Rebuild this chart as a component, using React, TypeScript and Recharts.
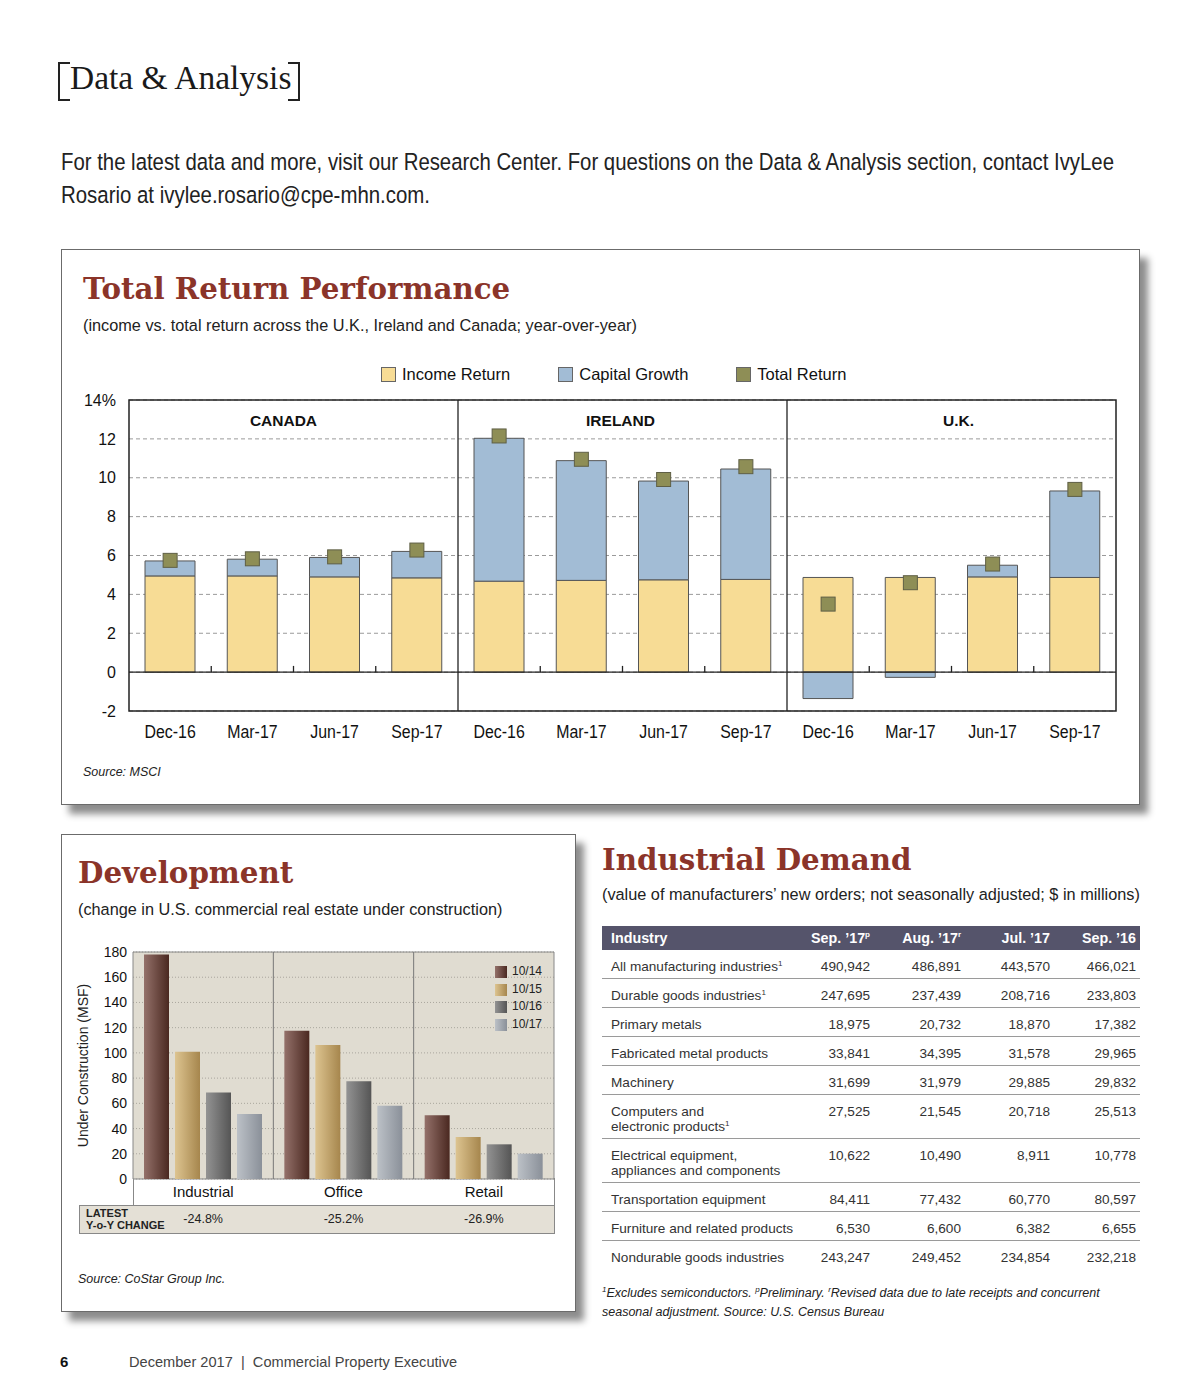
import React from 'react';
import {
  ComposedChart, BarChart, Bar, Scatter, XAxis, YAxis, CartesianGrid, ReferenceLine, ReferenceArea,
} from 'recharts';

// Total Return Performance (% year-over-year)
const returnRegions = ['CANADA', 'IRELAND', 'U.K.'];
const returnPeriods = ['Dec-16', 'Mar-17', 'Jun-17', 'Sep-17'];
const incomeReturn = [4.95, 4.95, 4.9, 4.85, 4.68, 4.72, 4.75, 4.77, 4.87, 4.87, 4.9, 4.87];
const capitalGrowth = [0.77, 0.86, 1.0, 1.36, 7.35, 6.16, 5.08, 5.68, -1.36, -0.27, 0.6, 4.45];
const totalReturn = [5.75, 5.83, 5.93, 6.28, 12.15, 10.95, 9.91, 10.57, 3.5, 4.6, 5.56, 9.4];
const returnTicks = [-2, 0, 2, 4, 6, 8, 10, 12, 14];
const returnSeries = ['Income Return', 'Capital Growth', 'Total Return'];

// Development (MSF under construction)
const devCategories = ['Industrial', 'Office', 'Retail'];
const devPeriods = ['10/14', '10/15', '10/16', '10/17'];
const dev1014 = [178, 117.5, 50.6];
const dev1015 = [101, 106.2, 33.4];
const dev1016 = [68.5, 77.5, 27.5];
const dev1017 = [51.5, 58, 20.1];
const devChange = ['-24.8%', '-25.2%', '-26.9%'];
const devTicks = [0, 20, 40, 60, 80, 100, 120, 140, 160, 180];

// Industrial Demand table
const demandColumns = ['Sep. \u201917', 'Aug. \u201917', 'Jul. \u201917', 'Sep. \u201916'];
const demandColumnMarks = ['p', 'r', '', ''];
const demandIndustries = [
  'All manufacturing industries|1',
  'Durable goods industries|1',
  'Primary metals',
  'Fabricated metal products',
  'Machinery',
  'Computers and\nelectronic products|1',
  'Electrical equipment,\nappliances and components',
  'Transportation equipment',
  'Furniture and related products',
  'Nondurable goods industries',
];
const demandSep17 = ['490,942', '247,695', '18,975', '33,841', '31,699', '27,525', '10,622', '84,411', '6,530', '243,247'];
const demandAug17 = ['486,891', '237,439', '20,732', '34,395', '31,979', '21,545', '10,490', '77,432', '6,600', '249,452'];
const demandJul17 = ['443,570', '208,716', '18,870', '31,578', '29,885', '20,718', '8,911', '60,770', '6,382', '234,854'];
const demandSep16 = ['466,021', '233,803', '17,382', '29,965', '29,832', '25,513', '10,778', '80,597', '6,655', '232,218'];

const SANS = "'Liberation Sans', Arial, Helvetica, sans-serif";
const SERIF = "'Liberation Serif', 'DejaVu Serif', serif";
const SLAB = "'DejaVu Serif', 'Liberation Serif', serif";
const TITLE_RED = '#8b3429';

const seriesColors = ['#f7dc95', '#a2bcd5', '#8e8e56'];
const devGradients = [
  ['#94716a', '#4a2820'],
  ['#ddc490', '#a6864d'],
  ['#939393', '#555555'],
  ['#bcc1c7', '#8a9099'],
];

const returnRows = returnRegions.flatMap((region, g) =>
  returnPeriods.map((period, p) => {
    const i = g * returnPeriods.length + p;
    return { key: `${region} ${period}`, slot: i + 0.5, income: incomeReturn[i], capital: capitalGrowth[i], total: totalReturn[i] };
  }),
);

const devRows = devCategories.map((name, i) => ({
  name,
  slot: i + 0.5,
  change: devChange[i],
  v0: dev1014[i],
  v1: dev1015[i],
  v2: dev1016[i],
  v3: dev1017[i],
}));

const TotalSquare = (props: any) => {
  const { cx, cy } = props;
  if (cx == null || cy == null) return null;
  return <rect x={cx - 7} y={cy - 7} width={14} height={14} fill={seriesColors[2]} stroke="#5f5f45" strokeWidth={1} />;
};

// condensed period label (no narrow face installed, so squeeze Liberation Sans)
const PeriodTick = (props: any) => {
  const { x, y, payload } = props;
  const label = String(payload.value).split(' ').pop();
  return (
    <g transform={`translate(${x},${y})`}>
      <text transform="scale(0.86,1)" textAnchor="middle" dy={13} fontSize={18.5} fontFamily={SANS} fill="#111">
        {label}
      </text>
    </g>
  );
};

const boxStyle: React.CSSProperties = {
  position: 'absolute',
  background: '#fff',
  border: '1px solid #6b6b6b',
  boxShadow: '8px 9px 7px rgba(0,0,0,0.45)',
};

const TotalReturnChart = () => {
  const n = returnRows.length;
  const inner: number[] = [];
  for (let k = 1; k < n; k++) if (k % returnPeriods.length !== 0) inner.push(k);
  const groups: number[] = [];
  for (let k = returnPeriods.length; k < n; k += returnPeriods.length) groups.push(k);
  const labelShift = [-10, -2, 7];

  return (
    <ComposedChart
      width={1070}
      height={356}
      data={returnRows}
      stackOffset="sign"
      margin={{ top: 10, right: 14, bottom: 5, left: 0 }}
    >
      <CartesianGrid vertical={false} stroke="#9a9a9a" strokeDasharray="4 3" />
      <XAxis
        dataKey="key"
        interval={0}
        axisLine={false}
        tickLine={false}
        height={30}
        tickMargin={8}
        tick={<PeriodTick />}
      />
      <XAxis xAxisId="n" dataKey="slot" type="number" domain={[0, n]} allowDataOverflow hide />
      <YAxis
        domain={[-2, 14]}
        ticks={returnTicks}
        interval={0}
        width={69}
        axisLine={false}
        tickLine={false}
        tickMargin={7}
        tickFormatter={(v: number) => (v === 14 ? '14%' : String(v))}
        tick={{ fill: '#111', fontSize: 16, fontFamily: SANS }}
      />
      <Bar dataKey="income" name={returnSeries[0]} stackId="r" barSize={50} fill={seriesColors[0]} stroke="#555" strokeWidth={1} isAnimationActive={false} />
      <Bar dataKey="capital" name={returnSeries[1]} stackId="r" barSize={50} fill={seriesColors[1]} stroke="#555" strokeWidth={1} isAnimationActive={false} />
      <ReferenceLine y={0} stroke="#222" strokeWidth={1.3} />
      {inner.map((k) => (
        <ReferenceLine key={k} xAxisId="n" segment={[{ x: k, y: 0 }, { x: k, y: 0.32 }]} stroke="#222" strokeWidth={1.3} />
      ))}
      {groups.map((k) => (
        <ReferenceLine key={`g${k}`} xAxisId="n" x={k} stroke="#222" strokeWidth={1.3} />
      ))}
      {returnRegions.map((r, g) => (
        <ReferenceArea
          key={r}
          xAxisId="n"
          x1={g * returnPeriods.length}
          x2={(g + 1) * returnPeriods.length}
          y1={12.5}
          y2={13.44}
          fill="none"
          stroke="none"
          label={{ value: r, position: 'center', dx: labelShift[g], fill: '#111', fontSize: 15.5, fontWeight: 700, fontFamily: SANS }}
        />
      ))}
      <ReferenceArea xAxisId="n" x1={0} x2={n} y1={-2} y2={14} fill="none" stroke="#222" strokeWidth={1.5} />
      <Scatter dataKey="total" name={returnSeries[2]} shape={TotalSquare} isAnimationActive={false} />
    </ComposedChart>
  );
};

const DevelopmentChart = () => (
  <BarChart
    width={503}
    height={299}
    data={devRows}
    barSize={25}
    barGap={6}
    margin={{ top: 12, right: 10, bottom: 5, left: 0 }}
  >
    <defs>
      {devGradients.map(([a, b], i) => (
        <linearGradient key={i} id={`dev-g-${i}`} x1="0" y1="0" x2="1" y2="0">
          <stop offset="0%" stopColor={a} />
          <stop offset="100%" stopColor={b} />
        </linearGradient>
      ))}
    </defs>
    <CartesianGrid vertical={false} fill="#e0dcd1" stroke="#a9a69d" strokeDasharray="1 2" />
    <XAxis
      dataKey="name"
      axisLine={false}
      tickLine={false}
      height={27}
      tickMargin={1}
      tick={{ fill: '#111', fontSize: 15, fontFamily: SANS }}
    />
    <XAxis
      xAxisId="chg"
      dataKey="change"
      axisLine={false}
      tickLine={false}
      height={28}
      tickMargin={2}
      tick={{ fill: '#222', fontSize: 12.5, fontFamily: SANS }}
    />
    <XAxis xAxisId="n" dataKey="slot" type="number" domain={[0, devCategories.length]} allowDataOverflow hide />
    <YAxis
      domain={[0, 180]}
      ticks={devTicks}
      interval={0}
      width={72}
      axisLine={false}
      tickLine={false}
      tickMargin={0}
      tick={{ fill: '#111', fontSize: 14, fontFamily: SANS }}
      label={{
        value: 'Under Construction (MSF)',
        angle: -90,
        position: 'insideLeft',
        offset: 22,
        style: { textAnchor: 'middle', fill: '#222', fontSize: 14, fontFamily: SANS },
      }}
    />
    {devPeriods.map((p, i) => (
      <Bar key={p} dataKey={`v${i}`} name={p} fill={`url(#dev-g-${i})`} isAnimationActive={false} />
    ))}
    {devCategories.slice(1).map((c, i) => (
      <ReferenceLine key={c} xAxisId="n" x={i + 1} stroke="#777" strokeWidth={1} />
    ))}
    <ReferenceArea xAxisId="n" x1={0} x2={devCategories.length} y1={0} y2={180} fill="none" stroke="#888" strokeWidth={1} />
  </BarChart>
);

const IndustryName = ({ text }: { text: string }) => {
  const [label, mark] = text.split('|');
  const lines = label.split('\n');
  return (
    <>
      {lines.map((l, i) => (
        <div key={i} style={{ whiteSpace: 'nowrap' }}>
          {l}
          {i === lines.length - 1 && mark ? <sup style={{ fontSize: 8, verticalAlign: 'top', lineHeight: '10px' }}>{mark}</sup> : null}
        </div>
      ))}
    </>
  );
};

const DemandTable = () => {
  const colWidths = [200, 73, 91, 89, 85];
  const values = [demandSep17, demandAug17, demandJul17, demandSep16];
  const cellPad = (c: number): React.CSSProperties =>
    c === 0 ? { paddingLeft: 9, textAlign: 'left' } : { paddingLeft: 0, paddingRight: c === 4 ? 4 : 5, textAlign: 'right' };
  return (
    <table
      style={{
        position: 'absolute',
        left: 602,
        top: 926,
        width: 538,
        borderCollapse: 'collapse',
        tableLayout: 'fixed',
        fontFamily: SANS,
        fontSize: 13.6,
        color: '#333',
      }}
    >
      <colgroup>
        {colWidths.map((w, i) => (
          <col key={i} style={{ width: w }} />
        ))}
      </colgroup>
      <thead>
        <tr style={{ background: '#55546b', color: '#fff', height: 24 }}>
          <th style={{ ...cellPad(0), fontSize: 14.3, padding: '0 0 0 9px' }}>Industry</th>
          {demandColumns.map((c, i) => (
            <th key={c} style={{ ...cellPad(i + 1), fontSize: 14.3, paddingTop: 0, paddingBottom: 0, whiteSpace: 'nowrap' }}>
              {c}
              {demandColumnMarks[i] ? <sup style={{ fontSize: 8, verticalAlign: 'top', lineHeight: '10px' }}>{demandColumnMarks[i]}</sup> : null}
            </th>
          ))}
        </tr>
      </thead>
      <tbody>
        {demandIndustries.map((ind, r) => (
          <tr key={r} style={{ borderBottom: r === demandIndustries.length - 1 ? 'none' : '1px solid #9a9a9a' }}>
            <td style={{ ...cellPad(0), verticalAlign: 'top', padding: '9px 0 4px 9px', lineHeight: '15px' }}>
              <IndustryName text={ind} />
            </td>
            {values.map((col, c) => (
              <td key={c} style={{ ...cellPad(c + 1), verticalAlign: 'top', paddingTop: 9, paddingBottom: 4, lineHeight: '15px' }}>
                {col[r]}
              </td>
            ))}
          </tr>
        ))}
      </tbody>
    </table>
  );
};

const Swatch = ({ color }: { color: string }) => (
  <span style={{ display: 'inline-block', width: 13, height: 13, background: color, border: '1px solid #666', marginRight: 6, verticalAlign: -2 }} />
);

// the intro is set in a condensed face: draw narrower type, then stretch it taller
const INTRO_STRETCH = 1.18;

export default function App() {
  return (
    <div style={{ position: 'absolute', left: 0, top: 0, width: 1200, height: 1400, background: '#fff', overflow: 'hidden', fontFamily: SANS }}>
      {/* masthead */}
      <div style={{ position: 'absolute', left: 58, top: 62, width: 10, height: 35, borderLeft: '2px solid #222', borderTop: '2px solid #222', borderBottom: '2px solid #222' }} />
      <div style={{ position: 'absolute', left: 70, top: 60, fontFamily: SERIF, fontSize: 33.5, lineHeight: '35px', color: '#1a1a1a', whiteSpace: 'nowrap' }}>
        Data &amp; Analysis
      </div>
      <div style={{ position: 'absolute', left: 288, top: 62, width: 10, height: 35, borderRight: '2px solid #222', borderTop: '2px solid #222', borderBottom: '2px solid #222' }} />
      <svg width={1100} height={72} style={{ position: 'absolute', left: 61, top: 140 }}>
        <g transform={`scale(1,${INTRO_STRETCH})`}>
          <text x={0} y={30 / INTRO_STRETCH} fontFamily={SANS} fontSize={20.3} fill="#222" textLength={1053} lengthAdjust="spacingAndGlyphs">
            For the latest data and more, visit our Research Center. For questions on the Data &amp; Analysis section, contact IvyLee
          </text>
          <text x={0} y={63 / INTRO_STRETCH} fontFamily={SANS} fontSize={20.3} fill="#222" textLength={369} lengthAdjust="spacingAndGlyphs">
            Rosario at ivylee.rosario@cpe-mhn.com.
          </text>
        </g>
      </svg>

      {/* Total Return Performance */}
      <div style={{ ...boxStyle, left: 61, top: 249, width: 1077, height: 554 }} />
      <div style={{ position: 'absolute', left: 83, top: 272, fontFamily: SLAB, fontWeight: 700, fontSize: 29.3, lineHeight: '34px', color: TITLE_RED, whiteSpace: 'nowrap' }}>
        Total Return Performance
      </div>
      <div style={{ position: 'absolute', left: 83, top: 315, fontSize: 16.3, lineHeight: '20px', color: '#222', whiteSpace: 'nowrap' }}>
        (income vs. total return across the U.K., Ireland and Canada; year-over-year)
      </div>
      <div style={{ position: 'absolute', left: 381, top: 365, display: 'flex', gap: 48, fontSize: 16.5, lineHeight: '18px', color: '#111', whiteSpace: 'nowrap' }}>
        {returnSeries.map((s, i) => (
          <span key={s}>
            <Swatch color={seriesColors[i]} />
            {s}
          </span>
        ))}
      </div>
      <div style={{ position: 'absolute', left: 60, top: 390 }}>
        <TotalReturnChart />
      </div>
      <div style={{ position: 'absolute', left: 83, top: 765, fontSize: 12.5, fontStyle: 'italic', color: '#222' }}>Source: MSCI</div>

      {/* Development */}
      <div style={{ ...boxStyle, left: 61, top: 834, width: 513, height: 476 }} />
      <div style={{ position: 'absolute', left: 78, top: 856, fontFamily: SLAB, fontWeight: 700, fontSize: 29.3, lineHeight: '34px', color: TITLE_RED, whiteSpace: 'nowrap' }}>
        Development
      </div>
      <div style={{ position: 'absolute', left: 78, top: 899, fontSize: 16.3, lineHeight: '20px', color: '#222', whiteSpace: 'nowrap' }}>
        (change in U.S. commercial real estate under construction)
      </div>
      <div style={{ position: 'absolute', left: 133, top: 1178, width: 420, height: 27, borderLeft: '1px solid #888', borderRight: '1px solid #888' }} />
      <div style={{ position: 'absolute', left: 79, top: 1205, width: 474, height: 27, background: '#e4e0d6', border: '1px solid #888' }} />
      <div style={{ position: 'absolute', left: 86, top: 1207, fontSize: 11, lineHeight: '12px', fontWeight: 700, color: '#222' }}>
        LATEST
        <br />
        Y-o-Y CHANGE
      </div>
      <div style={{ position: 'absolute', left: 61, top: 940 }}>
        <DevelopmentChart />
      </div>
      <div style={{ position: 'absolute', left: 495, top: 963, fontSize: 12, lineHeight: '17.7px', color: '#222' }}>
        {devPeriods.map((p, i) => (
          <div key={p} style={{ display: 'flex', alignItems: 'center', whiteSpace: 'nowrap' }}>
            <svg width={12} height={12} style={{ marginRight: 5 }}>
              <defs>
                <linearGradient id={`dev-l-${i}`} x1="0" y1="0" x2="1" y2="0">
                  <stop offset="0%" stopColor={devGradients[i][0]} />
                  <stop offset="100%" stopColor={devGradients[i][1]} />
                </linearGradient>
              </defs>
              <rect width={12} height={12} fill={`url(#dev-l-${i})`} />
            </svg>
            {p}
          </div>
        ))}
      </div>
      <div style={{ position: 'absolute', left: 78, top: 1272, fontSize: 12.5, fontStyle: 'italic', color: '#222' }}>Source: CoStar Group Inc.</div>

      {/* Industrial Demand */}
      <div style={{ position: 'absolute', left: 602, top: 843, fontFamily: SLAB, fontWeight: 700, fontSize: 29.3, lineHeight: '34px', color: TITLE_RED, whiteSpace: 'nowrap' }}>
        Industrial Demand
      </div>
      <div style={{ position: 'absolute', left: 602, top: 884, fontSize: 16.3, lineHeight: '20px', color: '#222', whiteSpace: 'nowrap' }}>
        (value of manufacturers’ new orders; not seasonally adjusted; $ in millions)
      </div>
      <DemandTable />
      <div style={{ position: 'absolute', left: 602, top: 1280, width: 545, fontSize: 12.5, lineHeight: '19px', fontStyle: 'italic', color: '#222', whiteSpace: 'nowrap' }}>
        <sup style={{ fontSize: 8 }}>1</sup>Excludes semiconductors. <sup style={{ fontSize: 8 }}>p</sup>Preliminary. <sup style={{ fontSize: 8 }}>r</sup>Revised data due to late receipts and concurrent
        <br />
        seasonal adjustment. Source: U.S. Census Bureau
      </div>

      {/* footer */}
      <div style={{ position: 'absolute', left: 60, top: 1353, fontSize: 15, fontWeight: 700, color: '#111' }}>6</div>
      <div style={{ position: 'absolute', left: 129, top: 1354, fontSize: 14.6, color: '#444', whiteSpace: 'nowrap' }}>
        December 2017&nbsp; |&nbsp; Commercial Property Executive
      </div>
    </div>
  );
}
